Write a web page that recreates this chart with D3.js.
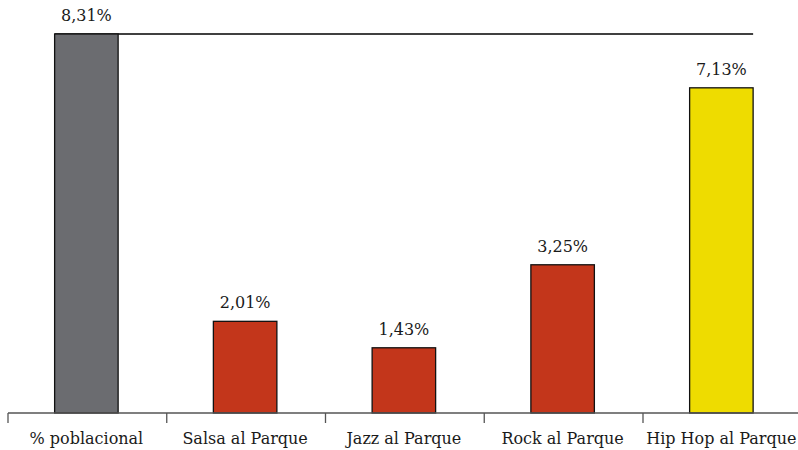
<!DOCTYPE html>
<html>
<head>
<meta charset="utf-8">
<script src="https://cdn.jsdelivr.net/npm/d3@7"></script>
<style>
  body { margin: 0; background: #fff; }
</style>
</head>
<body>
<svg id="chart" width="798" height="450"></svg>
<script>
const categories = ["% poblacional", "Salsa al Parque", "Jazz al Parque", "Rock al Parque", "Hip Hop al Parque"];
const values = [8.31, 2.01, 1.43, 3.25, 7.13];
const labels = ["8,31%", "2,01%", "1,43%", "3,25%", "7,13%"];
const colors = ["#6b6c70", "#c3361b", "#c3361b", "#c3361b", "#eedc00"];

const font = "DejaVu Serif";
const svg = d3.select("#chart").style("font-family", font);
const baseY = 413;

const x = d3.scaleBand()
  .domain(categories)
  .range([7, 7 + 5 * 158.75])
  .paddingInner(0.6)
  .paddingOuter(0.3);

const y = d3.scaleLinear().domain([0, d3.max(values)]).range([baseY, 34]);

const data = categories.map((c, i) => ({ c, v: values[i], label: labels[i], color: colors[i] }));

// reference line at the top value
svg.append("line")
  .attr("x1", x(categories[0]))
  .attr("x2", x(categories[4]) + x.bandwidth())
  .attr("y1", y(d3.max(values)))
  .attr("y2", y(d3.max(values)))
  .attr("stroke", "#000")
  .attr("stroke-width", 1.3);

// bars
svg.append("g")
  .selectAll("rect")
  .data(data)
  .enter()
  .append("rect")
  .attr("x", (d) => x(d.c))
  .attr("y", (d) => y(d.v))
  .attr("width", x.bandwidth())
  .attr("height", (d) => baseY - y(d.v))
  .attr("fill", (d) => d.color)
  .attr("stroke", "#111")
  .attr("stroke-width", 1.3);

// value labels
svg.append("g")
  .selectAll("text")
  .data(data)
  .enter()
  .append("text")
  .attr("x", (d) => x(d.c) + x.bandwidth() / 2)
  .attr("y", (d) => y(d.v) - 13)
  .attr("text-anchor", "middle")
  .style("font-family", font)
  .attr("font-size", 16)
  .attr("fill", "#1a1a1a")
  .text((d) => d.label);

// axis
const step = x.step();
const x0 = x.range()[0];
svg.append("line")
  .attr("x1", 8).attr("x2", 798)
  .attr("y1", baseY).attr("y2", baseY)
  .attr("stroke", "#555").attr("stroke-width", 1.3);

svg.append("g")
  .selectAll("line")
  .data(d3.range(categories.length + 1))
  .enter()
  .append("line")
  .attr("x1", (i) => x0 + 1 + i * step)
  .attr("x2", (i) => x0 + 1 + i * step)
  .attr("y1", baseY)
  .attr("y2", baseY + 10)
  .attr("stroke", "#555")
  .attr("stroke-width", 1.3);

svg.append("g")
  .selectAll("text")
  .data(categories)
  .enter()
  .append("text")
  .attr("x", (d) => x(d) + x.bandwidth() / 2)
  .attr("y", 444)
  .attr("text-anchor", "middle")
  .style("font-family", font)
  .attr("font-size", 16)
  .attr("fill", "#1a1a1a")
  .text((d) => d);
</script>
</body>
</html>
